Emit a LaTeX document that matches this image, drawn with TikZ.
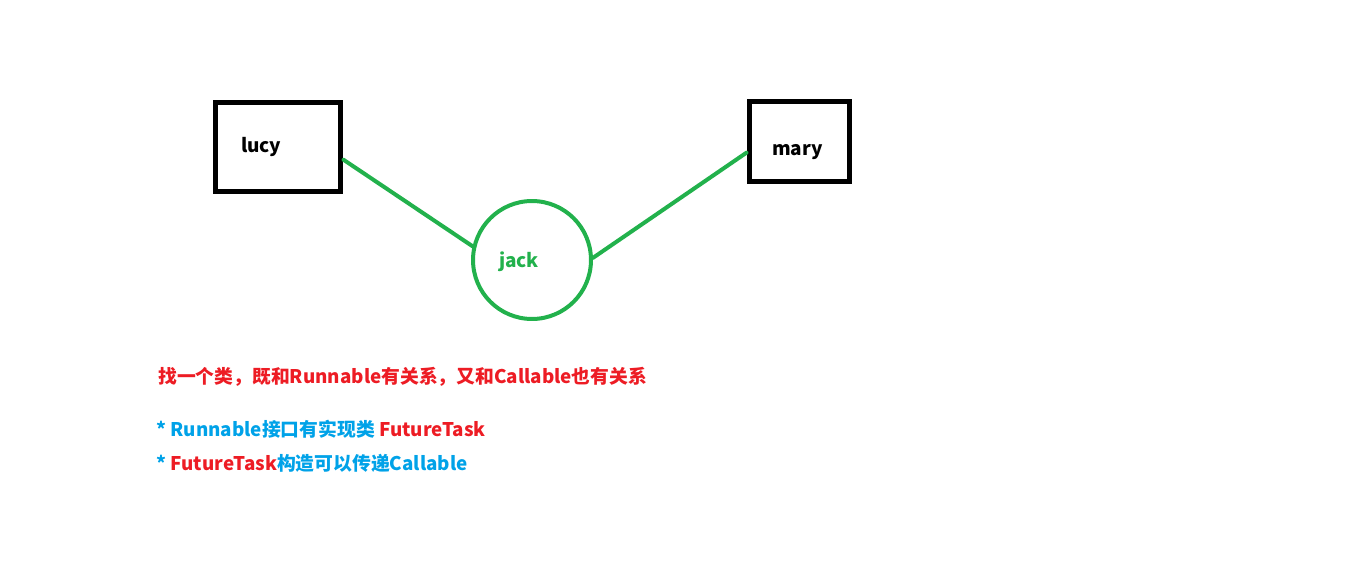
\documentclass[tikz,border=0pt]{standalone}
\usepackage{fontspec}
\setmainfont{Noto Sans CJK SC}
\usepackage{xcolor}
\usepackage{tikz}
\usetikzlibrary{positioning}
\definecolor{linkgreen} {RGB}{34,177,76}
\definecolor{notered}   {RGB}{237,28,36}
\definecolor{noteblue}  {RGB}{0,162,232}
\tikzset{
  personbox/.style={draw=black, line width=0.1cm, rectangle, align=left,
                    minimum width=#1, minimum height=1.78cm,
                    font=\bfseries\fontsize{10.8}{13}\selectfont},
  personbox/.default=2.52cm,
  hubcircle/.style={draw=linkgreen, line width=0.08cm, circle,
                    minimum size=2.36cm, inner sep=0pt},
  link/.style     ={draw=linkgreen, line width=0.08cm, line cap=round},
  note/.style     ={anchor=base west, inner sep=0pt,
                    font=\bfseries\fontsize{10.7}{13}\selectfont},
}
\begin{document}
\begin{tikzpicture}[x=0.02cm,y=-0.02cm]
  \useasboundingbox (0,0) rectangle (1351,574);
  %% the three people
  \node[personbox, text width=1.48cm] (lucy) at (278,147) {lucy};
  \node[personbox=2.0cm, text width=1.08cm, minimum height=1.62cm,
        text height=0.55cm, text depth=0cm] (mary) at (799,141.5) {mary};
  \node[hubcircle] (jack) at (532,260) {};
  \node[font=\bfseries\fontsize{10.8}{13}\selectfont, text=linkgreen] (jacklabel) at (519,262) {jack};
  \draw[link] (lucy.-11) -- (jack.167);
  \draw[link] (jack.2) -- (mary.192);
  %% notes
  \node[note, text=notered] (goal) at (158,383) {找一个类，既和Runnable有关系，又和Callable也有关系};
  \node[note, text=noteblue] (hint1) at (156,436) {* Runnable接口有实现类 \textcolor{notered}{FutureTask}};
  \node[note, text=noteblue] (hint2) at (156,470) {* \textcolor{notered}{FutureTask}构造可以传递Callable};
\end{tikzpicture}
\end{document}
